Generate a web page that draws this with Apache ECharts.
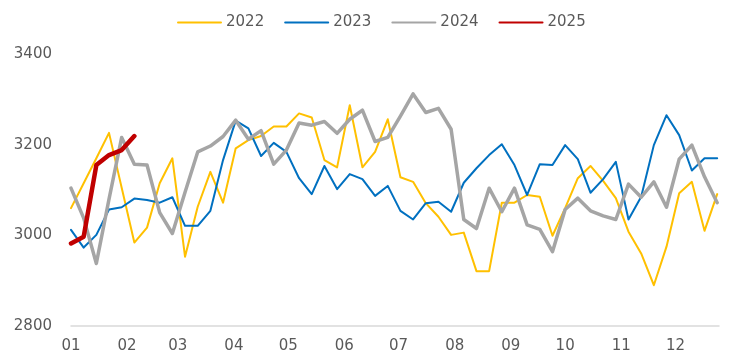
<!DOCTYPE html>
<html>
<head>
<meta charset="utf-8">
<script src="https://cdn.jsdelivr.net/npm/echarts@6/dist/echarts.min.js"></script>
<style>
  html, body { margin: 0; padding: 0; background: #fff; }
  #chart { width: 733px; height: 354px; }
</style>
</head>
<body>
<div id="chart"></div>
<script>
// Weekly readings, one value per week starting from the first week of January
const weekDays = 7;

const monthLabels = ['01', '02', '03', '04', '05', '06', '07', '08', '09', '10', '11', '12'];
const monthStartDays = [0, 31, 59, 90, 120, 151, 181, 212, 243, 273, 304, 334];

const yTicks = [2800, 3000, 3200, 3400];

const s2022 = [3060, 3115, 3170, 3226, 3105, 2984, 3017, 3115, 3170, 2953,
  3063, 3140, 3072, 3192, 3210, 3219, 3240, 3240, 3269, 3260,
  3166, 3150, 3287, 3150, 3184, 3256, 3128, 3118, 3071, 3041,
  3001, 3006, 2921, 2921, 3072, 3072, 3089, 3085, 2999, 3060,
  3126, 3153, 3120, 3082, 3008, 2960, 2890, 2975, 3093, 3118,
  3010, 3091];

const s2023 = [3012, 2973, 3001, 3057, 3062, 3081, 3078, 3072, 3084, 3021,
  3021, 3054, 3166, 3253, 3236, 3175, 3204, 3184, 3126, 3091,
  3153, 3102, 3135, 3124, 3087, 3109, 3054, 3035, 3071, 3074,
  3052, 3116, 3148, 3177, 3201, 3155, 3089, 3157, 3155, 3199,
  3168, 3094, 3124, 3162, 3035, 3085, 3199, 3265, 3221, 3143,
  3170, 3170];

const s2024 = [3104, 3038, 2938, 3080, 3216, 3157, 3155, 3050, 3004, 3095,
  3184, 3197, 3218, 3254, 3212, 3231, 3157, 3188, 3248, 3243,
  3251, 3225, 3256, 3276, 3207, 3216, 3263, 3312, 3271, 3280,
  3234, 3035, 3015, 3104, 3052, 3104, 3023, 3013, 2964, 3057,
  3082, 3054, 3043, 3035, 3113, 3084, 3118, 3062, 3168, 3199,
  3129, 3072];

const s2025 = [2982, 2997, 3155, 3177, 3188, 3219];

const seriesDefs = [
  { name: '2022', values: s2022, color: '#FFC000', width: 2 },
  { name: '2023', values: s2023, color: '#0070C0', width: 2 },
  { name: '2024', values: s2024, color: '#A5A5A5', width: 3.5 },
  { name: '2025', values: s2025, color: '#C00000', width: 4.5 }
];

// pair each weekly value with its day-of-year
const toPoints = vals => vals.map((v, i) => [i * weekDays, v]);

const textColor = '#595959';
const fontFamily = 'DejaVu Sans';

const chart = echarts.init(document.getElementById('chart'), null, { renderer: 'canvas' });

chart.setOption({
  animation: false,
  backgroundColor: '#ffffff',
  textStyle: { fontFamily: fontFamily },
  legend: {
    left: 172,
    top: 10,
    itemWidth: 43,
    itemHeight: 14,
    itemGap: 20,
    itemStyle: { opacity: 0 },
    textStyle: { color: textColor, fontSize: 15, fontFamily: fontFamily },
    data: seriesDefs.map(s => s.name)
  },
  grid: { left: 71, right: 14, top: 54, bottom: 28, containLabel: false },
  xAxis: {
    type: 'value',
    min: 0,
    max: 358,
    splitLine: { show: false },
    axisLine: { show: true, lineStyle: { color: '#D9D9D9', width: 1.5 } },
    axisTick: { show: false },
    axisLabel: {
      customValues: monthStartDays,
      color: textColor,
      fontSize: 15,
      fontFamily: fontFamily,
      margin: 13,
      formatter: v => monthLabels[monthStartDays.indexOf(v)] || ''
    }
  },
  yAxis: {
    type: 'value',
    min: yTicks[0],
    max: yTicks[yTicks.length - 1],
    interval: 200,
    splitLine: { show: false },
    axisLine: { show: false },
    axisTick: { show: false },
    axisLabel: {
      color: textColor,
      fontSize: 15,
      fontFamily: fontFamily,
      margin: 19,
      formatter: v => String(v)
    }
  },
  series: seriesDefs.map(s => ({
    name: s.name,
    type: 'line',
    data: toPoints(s.values),
    symbol: 'none',
    color: s.color,
    lineStyle: { color: s.color, width: s.width, join: 'round', cap: 'round' },
    emphasis: { disabled: true }
  }))
});
</script>
</body>
</html>
